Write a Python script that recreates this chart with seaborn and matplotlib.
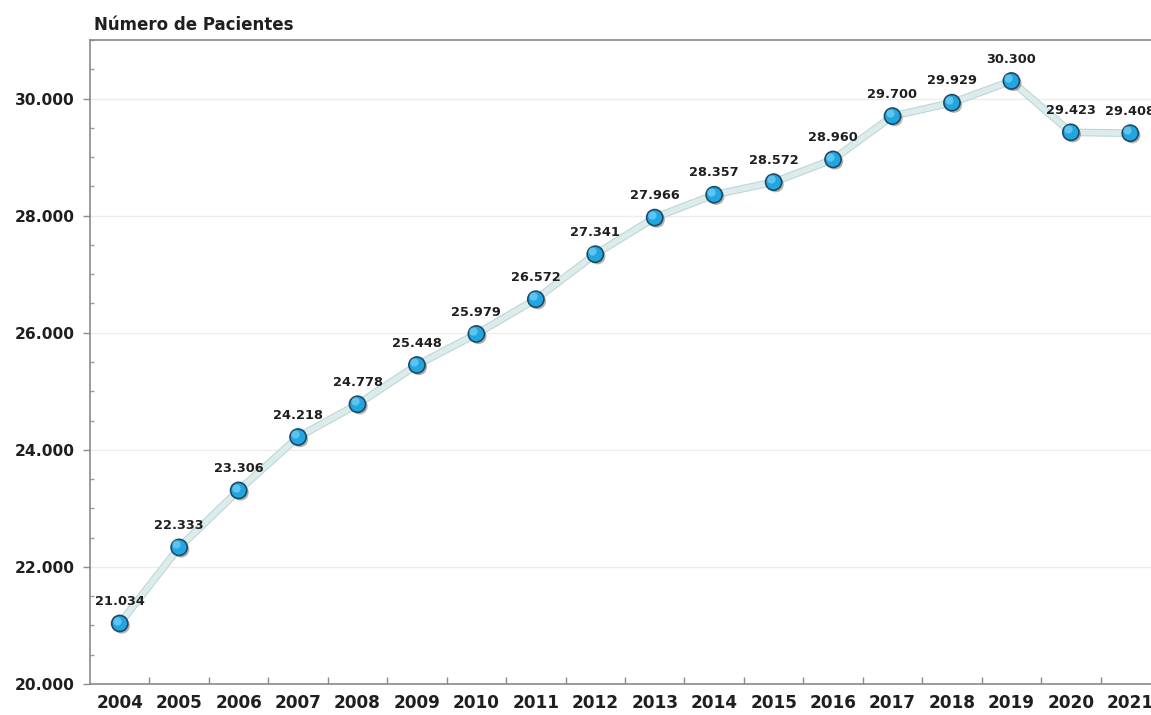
import matplotlib
matplotlib.use("Agg")
import matplotlib.pyplot as plt
import matplotlib.patheffects as pe
from matplotlib.ticker import FuncFormatter, MultipleLocator, FixedLocator
import seaborn as sns
import pandas as pd

years = [2004, 2005, 2006, 2007, 2008, 2009, 2010, 2011, 2012,
         2013, 2014, 2015, 2016, 2017, 2018, 2019, 2020, 2021]
patients = [21034, 22333, 23306, 24218, 24778, 25448, 25979, 26572, 27341,
            27966, 28357, 28572, 28960, 29700, 29929, 30300, 29423, 29408]
title = "Número de Pacientes"

df = pd.DataFrame({"year": years, "patients": patients})

sns.set_theme(style="white")
plt.rcParams["font.family"] = ["DejaVu Sans"]

fig = plt.figure(figsize=(11.51, 7.15), dpi=100)
ax = fig.add_axes([90 / 1151, 1 - 684 / 715, 1070 / 1151, 644 / 715])


def thousands(v, pos=None):
    return f"{int(round(v)):,}".replace(",", ".")


# connecting line: pale teal band with a slightly darker rim
sns.lineplot(data=df, x="year", y="patients", ax=ax, color="#dcebeb",
             linewidth=4, zorder=3,
             path_effects=[pe.Stroke(linewidth=5.5, foreground="#bcd5d5"),
                           pe.Normal()])

# glossy markers with a soft drop shadow
sns.scatterplot(data=df, x="year", y="patients", ax=ax, s=135,
                color="#22a6e0", edgecolor="#1d4a66", linewidth=1.2, zorder=5,
                path_effects=[pe.SimplePatchShadow(offset=(1.5, -1.5),
                                                   shadow_rgbFace="#555555",
                                                   alpha=0.45),
                              pe.Normal()])
ax.scatter([y - 0.05 for y in years], [p + 50 for p in patients], s=35,
           color="#8fdcff", alpha=0.55, linewidths=0, zorder=6)

for x, y in zip(years, patients):
    ax.annotate(thousands(y), (x, y), xytext=(0, 11), textcoords="offset points",
                ha="center", va="bottom", fontsize=9.3, fontweight="bold",
                color="#1f1f1f", zorder=7)

ax.set_xlim(2003.5, 2021.5)
ax.set_ylim(20000, 31000)
ax.set_xlabel("")
ax.set_ylabel("")

ax.yaxis.set_major_locator(MultipleLocator(2000))
ax.yaxis.set_minor_locator(MultipleLocator(500))
ax.yaxis.set_major_formatter(FuncFormatter(thousands))
ax.set_xticks(years)
ax.set_xticklabels([str(y) for y in years])
ax.xaxis.set_minor_locator(FixedLocator([y + 0.5 for y in years[:-1]]))

ax.tick_params(axis="x", which="major", length=0, pad=7,
               labelsize=12.2, labelcolor="#1f1f1f")
ax.tick_params(axis="x", which="minor", direction="in", length=5,
               width=1, color="#8a8a8a", bottom=True)
ax.tick_params(axis="y", which="major", direction="out", length=5, width=1,
               color="#8a8a8a", labelsize=11.2, labelcolor="#1f1f1f", pad=6,
               left=True)
ax.tick_params(axis="y", which="minor", direction="in", length=3, width=1,
               color="#9a9a9a", left=True)
for lbl in ax.get_xticklabels() + ax.get_yticklabels():
    lbl.set_fontweight("bold")

ax.grid(axis="y", which="major", color="#ececec", linewidth=1)
ax.grid(axis="x", visible=False)
for side in ["left", "bottom", "top", "right"]:
    ax.spines[side].set_color("#8a8a8a")
    ax.spines[side].set_linewidth(1.2)

fig.text(94 / 1151, 1 - 25 / 715, title, ha="left", va="center",
         fontsize=12, fontweight="bold", color="#1f1f1f")

fig.savefig("out.png", dpi=100, facecolor="white")
